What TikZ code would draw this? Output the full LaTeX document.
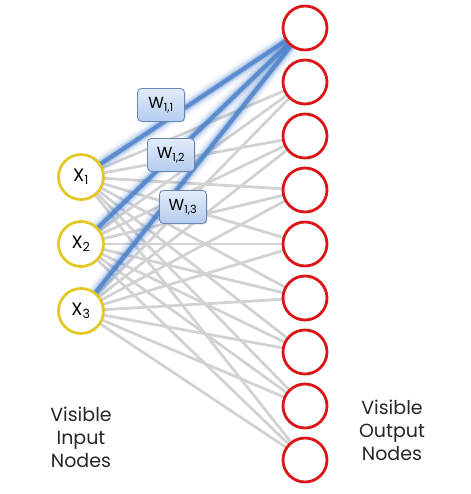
\documentclass[tikz,border=0pt]{standalone}
\usepackage{fontspec}
\setmainfont{Poppins}
\usetikzlibrary{shadows}
\definecolor{inyel}{RGB}{228,200,40}
\definecolor{outred}{RGB}{218,22,22}
\definecolor{edgegrey}{RGB}{210,210,210}
\definecolor{wblue}{RGB}{70,125,200}
\definecolor{boxtop}{RGB}{226,236,250}
\definecolor{boxbot}{RGB}{180,204,238}
\definecolor{boxline}{RGB}{105,135,180}
\tikzset{
  innode/.style={circle,draw=inyel,line width=2.8pt,fill=white,minimum size=45pt,inner sep=0pt,font=\fontsize{18}{18}\selectfont},
  outnode/.style={circle,draw=outred,line width=2.8pt,fill=white,minimum size=44pt,inner sep=0pt},
  greyedge/.style={draw=edgegrey,line width=2.8pt},
  glowA/.style={draw=wblue,line width=16pt,opacity=0.08},
  glowB/.style={draw=wblue,line width=11pt,opacity=0.14},
  glowD/.style={draw=wblue,line width=7pt,opacity=0.3},
  glowC/.style={draw=wblue,line width=4pt,opacity=0.8},
  wbox/.style={draw=boxline,line width=0.8pt,rounded corners=4pt,top color=boxtop,bottom color=boxbot,minimum width=47pt,minimum height=33pt,inner sep=0pt,font=\fontsize{16}{16}\selectfont,drop shadow={shadow xshift=1pt,shadow yshift=-1pt,opacity=0.25}},
  lbl/.style={align=center,font=\fontsize{19}{23}\selectfont,text=black!85}
}
\begin{document}
\begin{tikzpicture}[x=1pt,y=-1pt]
\useasboundingbox (0,0) rectangle (470,494);
% nodes
\foreach \i/\yy in {1/177,2/244,3/311} {\coordinate (c\i) at (81,\yy);}
\foreach \j in {1,...,9} {\coordinate (d\j) at (305,{28+54*(\j-1)});}
% grey edges
\foreach \i in {1,2,3} {
  \foreach \j in {2,...,9} {
    \draw[greyedge] (c\i) -- (d\j);
  }
}
% blue edges
\foreach \i in {1,2,3} {
  \draw[glowA] (c\i) -- (d1);
  \draw[glowB] (c\i) -- (d1);
  \draw[glowD] (c\i) -- (d1);
  \draw[glowC] (c\i) -- (d1);
}
\node[innode] (x1) at (c1) {X\textsubscript{1}};
\node[innode] (x2) at (c2) {X\textsubscript{2}};
\node[innode] (x3) at (c3) {X\textsubscript{3}};
\foreach \j in {1,...,9} {\node[outnode] (o\j) at (d\j) {};}
\node[wbox] (w11) at (161,105) {W\textsubscript{1,1}};
\node[wbox] (w12) at (171,155) {W\textsubscript{1,2}};
\node[wbox] (w13) at (183,207) {W\textsubscript{1,3}};
\node[lbl] (inlbl) at (81,437) {Visible\\Input\\Nodes};
\node[lbl] (outlbl) at (392,430) {Visible\\Output\\Nodes};
\end{tikzpicture}
\end{document}
